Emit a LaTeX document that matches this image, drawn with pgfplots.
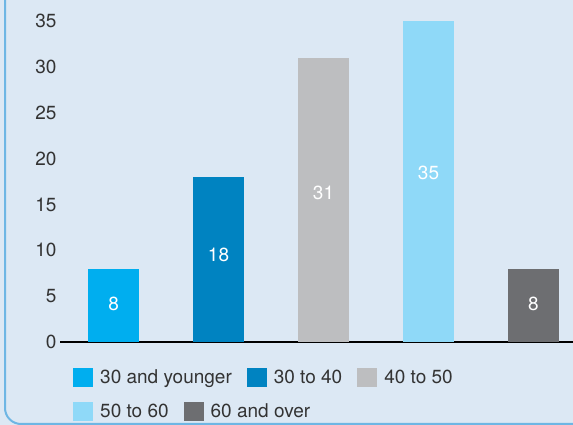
\documentclass[border=0pt]{standalone}
\usepackage{fontspec}
\setmainfont{TeX Gyre Heros}
\usepackage{pgfplots}
\pgfplotsset{compat=1.18}

\definecolor{panelbg}{RGB}{220,232,244}
\definecolor{panelrule}{RGB}{110,182,228}
\definecolor{agecyan}{RGB}{0,174,239}
\definecolor{ageblue}{RGB}{0,131,193}
\definecolor{agegrey}{RGB}{189,190,192}
\definecolor{agesky}{RGB}{143,217,248}
\definecolor{agedark}{RGB}{109,110,113}
\definecolor{labeltext}{RGB}{51,51,51}

\newcommand{\chartfont}{\fontsize{19}{22}\selectfont}

\pgfplotsset{
  panelaxis/.style={
    at={(60pt,83pt)}, anchor=south west,
    scale only axis, width=513pt, height=321pt,
  },
  agelegend/.style={
    legend columns=-1,
    legend image code/.code={\fill[##1] (0pt,-9.5pt) rectangle (20pt,9.5pt);},
    legend style={
      anchor=north west, draw=none, fill=none, inner sep=0pt,
      nodes={inner sep=0pt, text=labeltext, font=\chartfont},
      /tikz/every odd column/.append style={column sep=7pt},
      /tikz/every even column/.append style={column sep=15pt},
    },
  },
}

\begin{document}
\begin{tikzpicture}
% panel background and its rounded rule
\fill[panelbg] (0,0) rectangle (573pt,425pt);
\draw[panelrule, line width=2pt, rounded corners=16pt]
  (5pt,440pt) -- (5pt,1pt) -- (600pt,1pt);

\begin{axis}[
  panelaxis,
  xmin=-0.51, xmax=4.376, ymin=0, ymax=35,
  ybar, bar width=51pt, bar shift=0pt,
  axis lines*=left,
  y axis line style={draw=none},
  x axis line style={line width=2pt, black},
  xtick=\empty,
  ytick={0,5,...,35},
  major tick length=0pt,
  tick label style={font=\chartfont, text=labeltext},
  /pgf/number format/assume math mode=true,
  clip=false,
  nodes near coords,
  visualization depends on={rawy \as \rawy},
  every node near coord/.append style={anchor=center, text=white,
    font=\chartfont, yshift={-4.35*\rawy}},
  agelegend,
  legend style={at={(axis description cs:0.02534,-0.081)}},
]
\addplot[fill=agecyan, draw=none] coordinates {(0,8)};
\addlegendentry{30 and younger}
\addplot[fill=ageblue, draw=none] coordinates {(1,18)};
\addlegendentry{30 to 40}
\addplot[fill=agegrey, draw=none] coordinates {(2,31)};
\addlegendentry{40 to 50}
\addplot[fill=agesky, draw=none, forget plot] coordinates {(3,35)};
\addplot[fill=agedark, draw=none, forget plot] coordinates {(4,8)};
\end{axis}

% second legend row
\begin{axis}[
  panelaxis,
  hide axis,
  xmin=0, xmax=1, ymin=0, ymax=1,
  agelegend,
  legend style={at={(axis description cs:0.02534,-0.187)}},
]
\addlegendimage{fill=agesky, draw=none}
\addlegendentry{50 to 60}
\addlegendimage{fill=agedark, draw=none}
\addlegendentry{60 and over}
\end{axis}

\pgfresetboundingbox
\path (0,0) rectangle (573pt,425pt);
\end{tikzpicture}
\end{document}
